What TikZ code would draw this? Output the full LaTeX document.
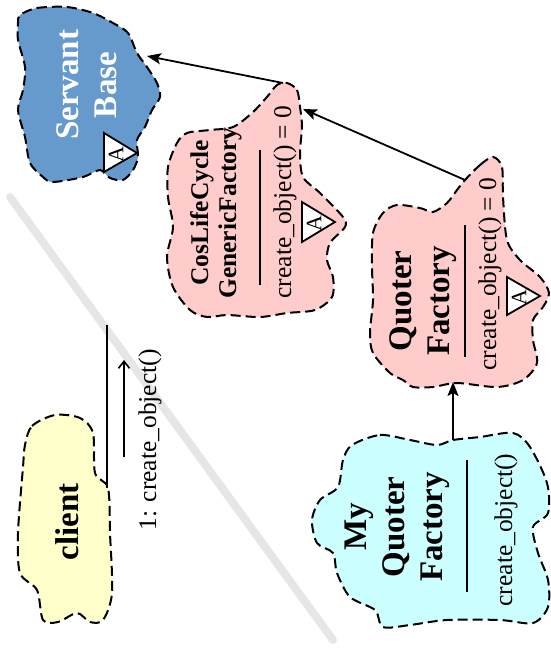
\documentclass[tikz,border=0pt]{standalone}
\usepackage{fontspec}
\setmainfont{Liberation Serif}
\usetikzlibrary{arrows.meta}

\definecolor{servantblue}{RGB}{102,153,204}
\definecolor{factorypink}{RGB}{255,204,204}
\definecolor{mycyan}{RGB}{204,255,255}
\definecolor{clientyellow}{RGB}{255,255,204}
\definecolor{dividegray}{RGB}{230,230,230}

\tikzset{
  cloudbox/.style={draw, line width=2pt, dash pattern=on 10pt off 5pt},
  classname/.style={rotate=90, align=center, font=\fontsize{33}{38}\selectfont\bfseries},
  smallname/.style={rotate=90, align=center, font=\fontsize{25.5}{28}\selectfont\bfseries},
  opname/.style={rotate=90, font=\fontsize{25.5}{30}\selectfont},
  sepline/.style={line width=1.8pt},
  inherit/.style={line width=1.8pt, -{Stealth[length=14pt,width=11pt,inset=3pt]}},
  abstri/.style={draw, fill=white, line width=1.8pt},
  absA/.style={rotate=90, font=\fontsize{22}{22}\selectfont}
}

\begin{document}
\begin{tikzpicture}[x=1pt, y=-1pt]
    \useasboundingbox (0,0) rectangle (550,651);

    % Draw the gray divider behind everything
    \draw[dividegray, line width=8pt, line cap=round] (10,197) -- (333,640);

    % Draw the Servant Base cloud
    \draw[cloudbox, fill=servantblue] plot[smooth cycle] coordinates {
      (20,15) (37,8) (67,7) (93,13) (113,23) (128,33) (137,53) (147,67)
      (157,83) (160,97) (152,110) (145,127) (137,140) (138,157) (133,170)
      (123,180) (110,178) (100,170) (83,177) (53,182) (43,177) (30,163)
      (25,137) (18,110) (23,90) (25,67) (18,40) (18,23)};
    \node[classname, text=white] (servant) at (87,85) {Servant\\Base};
    \draw[abstri] (104,133) -- (104,172) -- (137,153) -- cycle;
    \node[absA] (servantA) at (116,155) {A};

    % Draw the CosLifeCycle GenericFactory cloud
    \draw[cloudbox, fill=factorypink] plot[smooth cycle] coordinates {
      (287,83) (297,90) (300,107) (302,127) (300,153) (303,177) (320,193)
      (343,217) (345,227) (330,243) (327,260) (333,277) (332,297) (315,310)
      (287,313) (260,317) (227,315) (207,317) (190,310) (173,287) (167,257)
      (173,227) (168,197) (168,167) (177,143) (187,133) (210,130) (233,127)
      (252,113) (267,97) (277,85)};
    \node[smallname] (generic) at (216,213) {CosLifeCycle\\GenericFactory};
    \draw[sepline] (260,150) -- (260,285);
    \node[opname] (genericop) at (285,202) {create\_object() = 0};
    \draw[abstri] (302,202) -- (302,242) -- (335,222) -- cycle;
    \node[absA] (genericA) at (314,224) {A};

    % Draw the Quoter Factory cloud
    \draw[cloudbox, fill=factorypink] plot[smooth cycle] coordinates {
      (465,180) (480,165) (493,157) (502,167) (503,197) (507,240) (520,260)
      (540,277) (549,293) (543,307) (533,320) (533,340) (537,363) (523,380)
      (497,387) (457,383) (433,387) (413,387) (403,380) (390,373) (373,353)
      (370,333) (373,300) (372,267) (373,233) (383,213) (397,205) (420,208)
      (433,212) (447,203) (457,190)};
    \node[classname] (quoter) at (423,301) {Quoter\\Factory};
    \draw[sepline] (465,225) -- (465,357);
    \node[opname] (quoterop) at (490,274) {create\_object() = 0};
    \draw[abstri] (507,277) -- (507,315) -- (540,296) -- cycle;
    \node[absA] (quoterA) at (519,298) {A};

    % Draw the My Quoter Factory cloud
    \draw[cloudbox, fill=mycyan] plot[smooth cycle] coordinates {
      (352,445) (380,435) (410,440) (437,445) (453,440) (480,437) (513,433)
      (530,447) (547,483) (548,513) (533,527) (538,553) (548,580) (548,607)
      (533,623) (500,620) (447,620) (410,625) (383,627) (375,610) (350,597)
      (337,573) (333,553) (317,543) (312,520) (320,500) (338,487) (343,460)};
    \node[classname] (myquoter) at (397,527) {My\\Quoter\\Factory};
    \draw[sepline] (467,460) -- (467,592);
    \node[opname] (myquoterop) at (506,530) {create\_object()};

    % Draw the client cloud
    \draw[cloudbox, fill=clientyellow] plot[smooth cycle] coordinates {
      (25,445) (32,426) (55,415) (80,418) (93,433) (95,473) (108,488)
      (110,533) (112,593) (103,620) (90,622) (77,613) (58,622) (43,620)
      (37,590) (20,573) (18,533) (23,467)};
    \node[classname] (client) at (67,522) {client};

    % Anchor points on the cloud borders
    \coordinate (genericTop) at (283,83);
    \coordinate (servantSide) at (147,56);
    \coordinate (quoterTop) at (465,180);
    \coordinate (genericSide) at (303,109);
    \coordinate (myquoterTop) at (453,440);
    \coordinate (quoterBottom) at (453,382);
    \coordinate (linkEnd) at (107,325);
    \coordinate (clientSide) at (107,488);
    \coordinate (msgStart) at (124,457);
    \coordinate (msgEnd) at (124,360);

    % Draw the inheritance arrows
    \draw[inherit] (genericTop) -- (servantSide);
    \draw[inherit] (quoterTop) -- (genericSide);
    \draw[inherit] (myquoterTop) -- (quoterBottom);

    % Draw the client link and its message
    \draw[line width=1.8pt] (clientSide) -- (linkEnd);
    \draw[line width=1.6pt, -{Straight Barb[length=7pt,width=11pt]}] (msgStart) -- (msgEnd);
    \node[opname] (msg) at (150,440) {1: create\_object()};
\end{tikzpicture}
\end{document}
